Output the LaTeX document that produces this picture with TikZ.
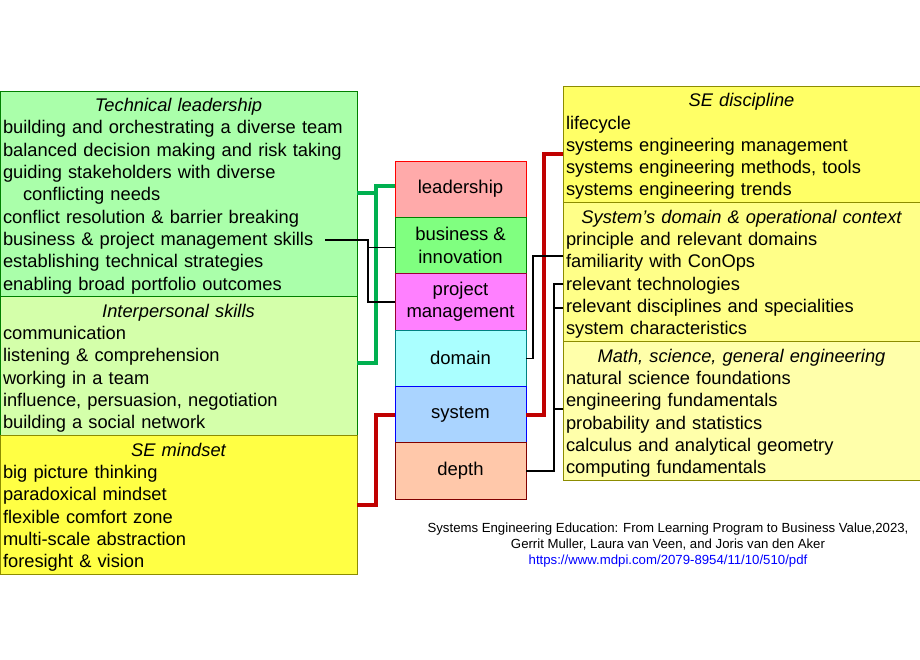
\documentclass[tikz,border=0pt]{standalone}
\usepackage{fontspec}
\setmainfont{Liberation Sans}
\usetikzlibrary{positioning}
\definecolor{techfill}{HTML}{AAFFAA}
\definecolor{interfill}{HTML}{D4FFAA}
\definecolor{mindfill}{HTML}{FFFF44}
\definecolor{discfill}{HTML}{FFFF66}
\definecolor{ctxfill}{HTML}{FFFF88}
\definecolor{mathfill}{HTML}{FFFFAA}
\definecolor{grpgreen}{HTML}{008000}
\definecolor{grpolive}{HTML}{8C8C00}
\definecolor{leadfill}{HTML}{FFAAAA}
\definecolor{busfill}{HTML}{80FF80}
\definecolor{projfill}{HTML}{FF80FF}
\definecolor{domfill}{HTML}{AAFFFF}
\definecolor{sysfill}{HTML}{AAD4FF}
\definecolor{depthfill}{HTML}{FFC8AA}
\definecolor{linkgreen}{HTML}{00B050}
\definecolor{linkred}{HTML}{C00000}
\definecolor{urlblue}{HTML}{0000FF}
\newcommand{\grptitle}[1]{\makebox[\linewidth]{\rule{0pt}{18.5pt}\itshape #1}}

\begin{document}
\begin{tikzpicture}[x=1pt,y=-1pt,
  every node/.style={font=\fontsize{18.5}{22.3}\selectfont},
  grp/.style={draw,anchor=north west,minimum width=357pt,text width=351pt,inner xsep=3pt,inner ysep=0pt,align=left,outer sep=0pt,
    font=\fontsize{18.3}{22.3}\selectfont},
  area/.style={draw,minimum width=131pt,minimum height=56.33pt,align=center,outer sep=0pt,inner sep=1pt},
  glink/.style={line width=4pt,draw=linkgreen},
  rlink/.style={line width=4pt,draw=linkred},
  blink/.style={line width=1.3pt,draw=black}]
\useasboundingbox (0,0) rectangle (920,660);

\node[grp,fill=techfill,draw=grpgreen,minimum height=205pt] (tech) at (0,91) {\grptitle{Technical leadership}\\
building and orchestrating a diverse team\\
balanced decision making and risk taking\\
guiding stakeholders with diverse\\
\hspace*{20pt}conflicting needs\\
conflict resolution \& barrier breaking\\
business \& project management skills\\
establishing technical strategies\\
enabling broad portfolio outcomes};
\node[grp,fill=interfill,draw=grpgreen,minimum height=139pt] (inter) at (0,296) {\grptitle{Interpersonal skills}\\
communication\\
listening \& comprehension\\
working in a team\\
influence, persuasion, negotiation\\
building a social network};
\node[grp,fill=mindfill,draw=grpolive,minimum height=139pt] (mind) at (0,435) {\grptitle{SE mindset}\\
big picture thinking\\
paradoxical mindset\\
flexible comfort zone\\
multi-scale abstraction\\
foresight \& vision};

\node[grp,fill=discfill,draw=grpolive,minimum height=116pt] (disc) at (563,86) {\grptitle{SE discipline}\\
lifecycle\\
systems engineering management\\
systems engineering methods, tools\\
systems engineering trends};
\node[grp,fill=ctxfill,draw=grpolive,minimum height=139pt] (ctx) at (563,202) {\grptitle{System's domain \& operational context}\\
principle and relevant domains\\
familiarity with ConOps\\
relevant technologies\\
relevant disciplines and specialities\\
system characteristics};
\node[grp,fill=mathfill,draw=grpolive,minimum height=139pt] (math) at (563,341) {\grptitle{Math, science, general engineering}\\
natural science foundations\\
engineering fundamentals\\
probability and statistics\\
calculus and analytical geometry\\
computing fundamentals};

\node[area,fill=leadfill,draw=red] (lead) at (460.5,189.2) {leadership};
\node[area,fill=busfill,draw=grpgreen,below=0pt of lead] (bus) {business \&\\innovation};
\node[area,fill=projfill,draw=purple!80!black,below=0pt of bus] (proj) {project\\management};
\node[area,fill=domfill,draw=teal,below=0pt of proj] (dom) {domain};
\node[area,fill=sysfill,draw=blue,below=0pt of dom] (sys) {system};
\node[area,fill=depthfill,draw=red!50!black,below=0pt of sys] (depth) {depth};

\node[font=\fontsize{13.2}{15.6}\selectfont,align=center] (cite) at (668,545) {Systems Engineering Education: From Learning Program to Business Value,2023,\\
Gerrit Muller, Laura van Veen, and Joris van den Aker\\
\textcolor{urlblue}{https://www.mdpi.com/2079-8954/11/10/510/pdf}};

\draw[glink] ([yshift=3pt]lead.west) -- ++(-19,0) coordinate (gj) |- ([yshift=3pt]inter.east);
\draw[glink] (tech.east) -- (tech.east -| gj);
\coordinate (bpm) at (325,240);
\draw[blink] (bpm) -- ++(43,0) coordinate (bj) |- (proj.west);
\draw[blink] ([yshift=-2pt]bus.west) -- ([yshift=-2pt]bus.west -| bj);
\draw[rlink] (sys.west) -- ++(-19,0) |- (mind.east);
\draw[rlink] (sys.east) -- ++(18,0) |- ([yshift=-10pt]disc.west);
\draw[blink] (dom.east) -- ++(7,0) |- ([yshift=15.5pt]ctx.west);
\draw[blink] (depth.east) -- ++(28,0) coordinate (dj) |- ([yshift=-12.5pt]ctx.west);
\draw[blink] ([yshift=-36.5pt]ctx.west) -- ([yshift=-36.5pt]ctx.west -| dj);
\draw[blink] ([yshift=1.5pt]math.west) -- ([yshift=1.5pt]math.west -| dj);
\end{tikzpicture}
\end{document}
